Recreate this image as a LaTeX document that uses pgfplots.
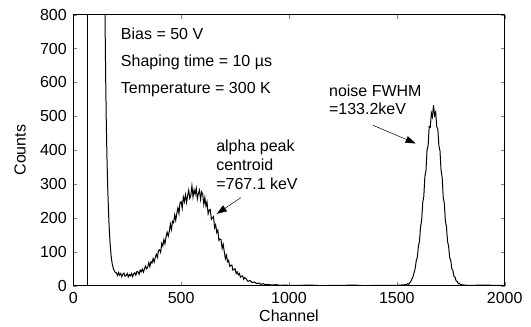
\documentclass[border=0pt]{standalone}
\usepackage{fontspec}
\setmainfont{Liberation Sans}
\usepackage{pgfplots}
\pgfplotsset{compat=1.18}
\usetikzlibrary{arrows.meta}
\begin{document}
\fontsize{16bp}{19bp}\selectfont
\begin{tikzpicture}
\begin{axis}[
  scale only axis, width=431.4bp, height=271bp,
  xmin=0, xmax=2000, ymin=0, ymax=800,
  xtick={0,500,1000,1500,2000}, ytick={0,100,...,800},
  tick align=inside, major tick length=4bp,
  /pgf/number format/assume math mode=true,
  /pgf/number format/1000 sep={},
  tick label style={font=\fontsize{16bp}{19bp}\selectfont},
  xticklabel style={yshift=-1bp},
  yticklabel style={xshift=-1bp},
  label style={font=\fontsize{16bp}{19bp}\selectfont},
  xlabel={Channel}, ylabel={Counts},
  xlabel style={at={(axis description cs:0.5,-0.112)},anchor=center},
  ylabel style={at={(axis description cs:-0.123,0.5)},anchor=center},
  axis line style={line width=0.8pt},
  clip=true,
]
\addplot[black, line width=0.7pt] coordinates {(65,0) (65,800)};
\addplot[black, line width=1pt] coordinates {
(145,1000) (147,800) (150,620) (153,480) (156,380) (160,280) (165,190) (170,130)
(175,90) (180,66) (185,52) (190,44) (195,39)
(200,38) (205,30) (210,39) (215,31) (220,36) (225,27) (230,34) (235,37) (240,28) (245,30)
(250,36) (255,26) (260,33) (265,29) (270,36) (275,27) (280,35) (285,38) (290,31) (295,42)
(300,41) (305,34) (310,46) (315,41) (320,49) (325,40) (330,50) (335,58) (340,50) (345,55)
(350,68) (355,56) (360,71) (365,67) (370,80) (375,70) (380,83) (385,93) (390,84) (395,104)
(400,106) (405,98) (410,125) (415,117) (420,136) (425,124) (430,144) (435,158) (440,146) (445,160)
(450,182) (455,166) (460,190) (465,186) (470,209) (475,193) (480,214) (485,230) (490,213) (495,246)
(500,248) (505,229) (510,262) (515,248) (520,268) (525,246) (530,266) (535,282) (540,258) (545,267)
(550,295) (555,262) (560,283) (565,270) (570,288) (575,256) (580,272) (585,282) (590,255) (595,277)
(600,270) (605,240) (610,260) (615,235) (620,247) (625,212) (630,223) (635,225) (640,196) (645,200)
(650,204) (655,171) (660,180) (665,157) (670,164) (675,134) (680,138) (685,136) (690,110) (695,122)
(700,100) (705,80) (710,90) (715,71) (720,75) (725,57) (730,60) (735,61) (740,46) (745,48)
(750,50) (755,36) (760,41) (765,32) (770,36) (775,25) (780,28) (785,29) (790,19) (795,24)
(800,21) (810,13) (820,15) (830,9) (840,11) (850,6) (860,8) (870,4) (880,6) (890,3)
(900,4) (920,2) (940,3) (960,1) (980,2) (1000,1) (1050,1) (1100,2) (1150,0) (1200,1)
(1250,1) (1300,2) (1350,0) (1400,1) (1450,1) (1500,1) (1520,2)
(1540,3) (1545,2) (1550,6) (1555,4) (1560,9) (1565,13) (1570,20) (1575,27) (1580,39) (1585,51)
(1590,74) (1595,84) (1600,117) (1605,131) (1610,174) (1615,193) (1620,245) (1625,264) (1630,323) (1635,340)
(1640,401) (1645,413) (1650,470) (1655,468) (1660,510) (1665,498) (1670,533) (1675,502) (1680,512) (1685,470)
(1690,462) (1695,413) (1700,398) (1705,340) (1710,320) (1715,262) (1720,243) (1725,191) (1730,174) (1735,131)
(1740,116) (1745,83) (1750,74) (1755,50) (1760,44) (1765,27) (1770,25) (1775,14) (1780,13) (1785,6)
(1790,7) (1795,3) (1800,3) (1810,2) (1830,1) (1850,1) (1900,2) (1950,1) (2000,1)
};
\node[anchor=base west, inner sep=0pt] at (axis cs:220,728) {Bias = 50 V};
\node[anchor=base west, inner sep=0pt] at (axis cs:220,647) {Shaping time = 10 \textmu s};
\node[anchor=base west, inner sep=0pt] at (axis cs:220,566) {Temperature = 300 K};
\node[anchor=base west, inner sep=0pt] at (axis cs:662,395) {alpha peak};
\node[anchor=base west, inner sep=0pt] at (axis cs:662,340) {centroid};
\node[anchor=base west, inner sep=0pt] at (axis cs:662,285) {=767.1 keV};
\node[anchor=base west, inner sep=0pt] at (axis cs:1185,559) {noise FWHM};
\node[anchor=base west, inner sep=0pt] at (axis cs:1185,506) {=133.2keV};
\draw[-{Triangle[length=10bp,width=7bp]}, line width=0.5pt] (axis cs:777,260) -- (axis cs:665,212);
\draw[-{Triangle[length=10bp,width=7bp]}, line width=0.5pt] (axis cs:1388,474) -- (axis cs:1587,420);
\end{axis}
\pgfresetboundingbox
\path (-73.3bp,-41.3bp) rectangle (457.7bp,285.7bp);
\end{tikzpicture}
\end{document}
